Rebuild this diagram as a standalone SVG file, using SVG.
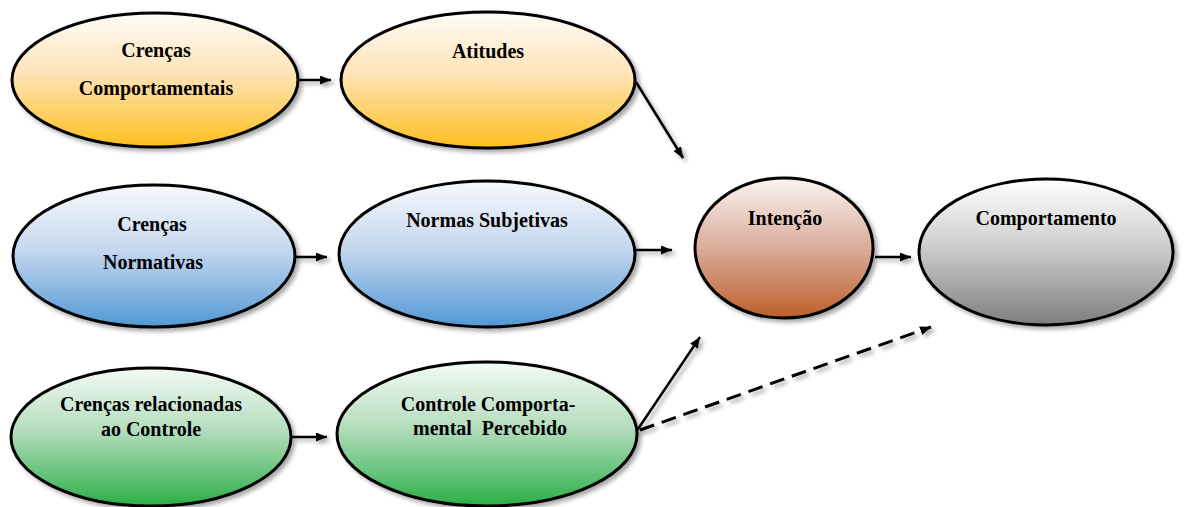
<svg xmlns="http://www.w3.org/2000/svg" width="1184" height="507" viewBox="0 0 1184 507">
  <defs>
    <linearGradient id="gOrange" x1="0" y1="0" x2="0" y2="1">
      <stop offset="0" stop-color="#FFFCF8"/>
      <stop offset="0.45" stop-color="#FEE3B8"/>
      <stop offset="1" stop-color="#FFBF1F"/>
    </linearGradient>
    <linearGradient id="gBlue" x1="0" y1="0" x2="0" y2="1">
      <stop offset="0" stop-color="#F7F9FD"/>
      <stop offset="0.45" stop-color="#C6D8EE"/>
      <stop offset="1" stop-color="#5298D6"/>
    </linearGradient>
    <linearGradient id="gBrown" x1="0" y1="0" x2="0" y2="1">
      <stop offset="0" stop-color="#FBF5F3"/>
      <stop offset="0.45" stop-color="#DDB3A3"/>
      <stop offset="1" stop-color="#BC5F2B"/>
    </linearGradient>
    <linearGradient id="gGray" x1="0" y1="0" x2="0" y2="1">
      <stop offset="0" stop-color="#FFFFFF"/>
      <stop offset="0.45" stop-color="#CFCFCF"/>
      <stop offset="1" stop-color="#7E7E7E"/>
    </linearGradient>
    <linearGradient id="gGreen" x1="0" y1="0" x2="0" y2="1">
      <stop offset="0" stop-color="#F4FAF5"/>
      <stop offset="0.45" stop-color="#B5DDBE"/>
      <stop offset="1" stop-color="#2BAF47"/>
    </linearGradient>
    <filter id="shadow" x="-10%" y="-10%" width="125%" height="130%">
      <feDropShadow dx="3" dy="3" stdDeviation="2" flood-color="#000" flood-opacity="0.35"/>
    </filter>
    <marker id="arrow" viewBox="0 0 11 9" refX="11" refY="4.5" markerWidth="11" markerHeight="9" markerUnits="userSpaceOnUse" orient="auto">
      <path d="M0,0 L11,4.5 L0,9 z" fill="#000"/>
    </marker>
  </defs>
  <style>
    .node { stroke: #000; stroke-width: 3; filter: url(#shadow); }
    .label { font-family: "Liberation Serif", "Times New Roman", serif; font-weight: bold; font-size: 20px; fill: #000; text-anchor: middle; white-space: pre; }
    .link { stroke: #000; stroke-width: 2.5; fill: none; marker-end: url(#arrow); }
    .dashed { stroke-width: 3; stroke-dasharray: 15 8; }
  </style>

  <g id="connectors" filter="url(#shadow)">
    <line class="link" x1="299" y1="80" x2="331" y2="80"/>
    <line class="link" x1="636" y1="82" x2="683" y2="158"/>
    <line class="link" x1="294" y1="257" x2="327" y2="257"/>
    <line class="link" x1="636" y1="250" x2="672" y2="250"/>
    <line class="link" x1="875" y1="257" x2="911" y2="257"/>
    <line class="link" x1="292" y1="437" x2="327" y2="437"/>
    <line class="link" x1="636" y1="432" x2="700" y2="337"/>
    <line class="link dashed" x1="640" y1="430" x2="931" y2="327"/>
  </g>

  <g id="crencas-comportamentais">
    <ellipse class="node" cx="155" cy="80" rx="143" ry="67" fill="url(#gOrange)"/>
    <text class="label" x="156" y="57">Crenças</text>
    <text class="label" x="156" y="95">Comportamentais</text>
  </g>

  <g id="atitudes">
    <ellipse class="node" cx="488" cy="80" rx="147" ry="68" fill="url(#gOrange)"/>
    <text class="label" x="488" y="58">Atitudes</text>
  </g>

  <g id="crencas-normativas">
    <ellipse class="node" cx="154" cy="256" rx="141" ry="71" fill="url(#gBlue)"/>
    <text class="label" x="152" y="231">Crenças</text>
    <text class="label" x="153" y="269">Normativas</text>
  </g>

  <g id="normas-subjetivas">
    <ellipse class="node" cx="487" cy="254" rx="148" ry="73" fill="url(#gBlue)"/>
    <text class="label" x="487" y="227">Normas Subjetivas</text>
  </g>

  <g id="intencao">
    <ellipse class="node" cx="784" cy="248" rx="89" ry="70" fill="url(#gBrown)"/>
    <text class="label" x="785" y="225">Intenção</text>
  </g>

  <g id="comportamento">
    <ellipse class="node" cx="1046" cy="252" rx="127" ry="73" fill="url(#gGray)"/>
    <text class="label" x="1046" y="225">Comportamento</text>
  </g>

  <g id="crencas-controle">
    <ellipse class="node" cx="151" cy="437" rx="140" ry="69" fill="url(#gGreen)"/>
    <text class="label" x="151" y="411">Crenças relacionadas</text>
    <text class="label" x="151" y="436">ao Controle</text>
  </g>

  <g id="controle-percebido">
    <ellipse class="node" cx="487" cy="434" rx="150" ry="72" fill="url(#gGreen)"/>
    <text class="label" x="488" y="411">Controle Comporta-</text>
    <text class="label" x="490" y="435">mental  Percebido</text>
  </g>
</svg>
